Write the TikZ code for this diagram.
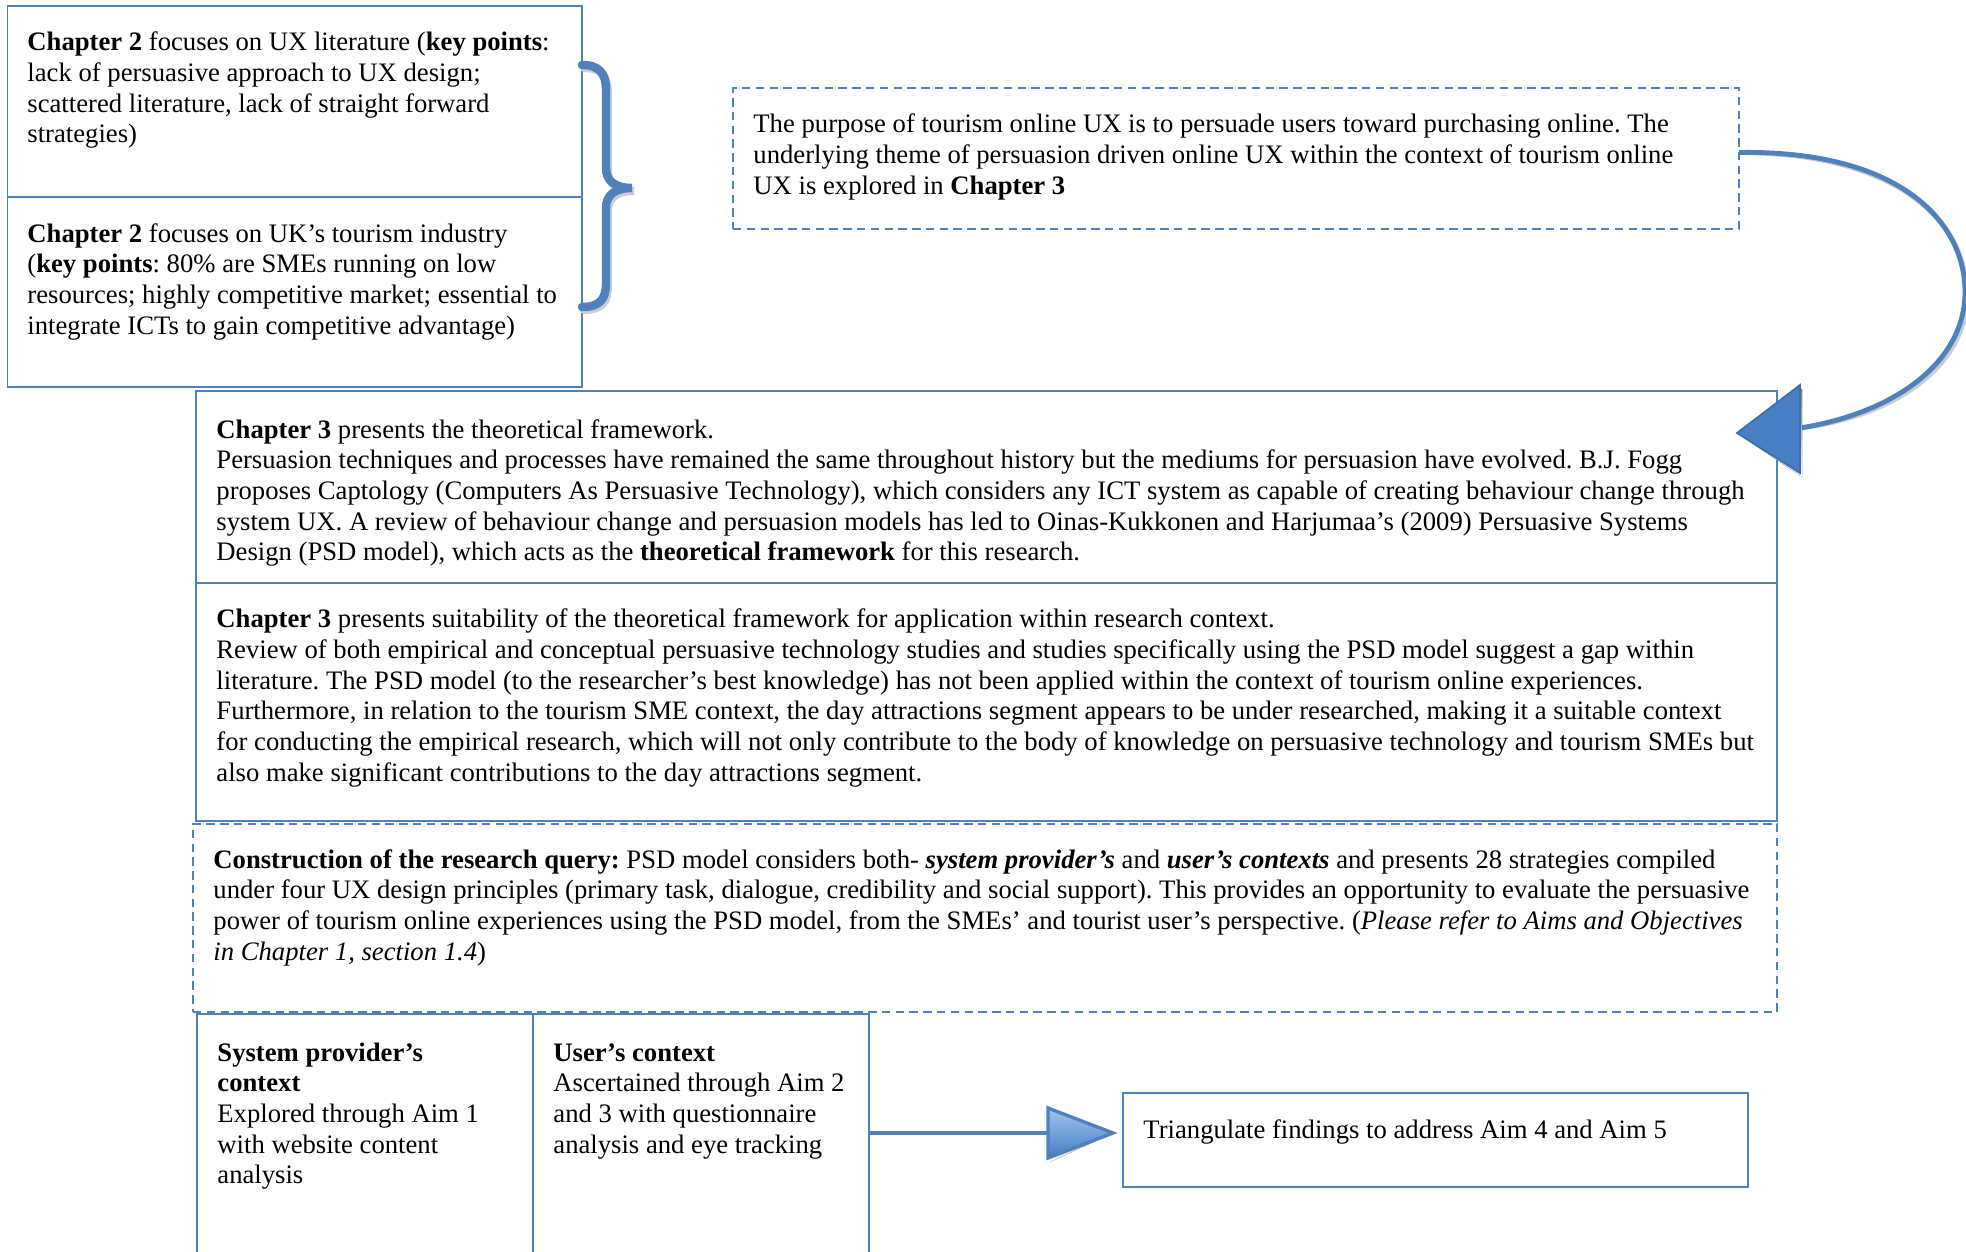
\documentclass[tikz,border=0pt]{standalone}
\usepackage{fontspec}
\setmainfont{Liberation Serif}
\frenchspacing
\usetikzlibrary{fit,calc}
\definecolor{frame}{RGB}{79,129,189}
\definecolor{headfill}{RGB}{72,126,196}
\definecolor{headedge}{RGB}{62,110,176}
\definecolor{headtop}{RGB}{160,198,242}
\definecolor{headbottom}{RGB}{70,124,194}
\definecolor{shade}{RGB}{205,205,205}
\tikzset{
  box/.style={draw=frame, line width=0.8pt, inner sep=0pt, outer sep=0pt},
  dashbox/.style={box, dash pattern=on 3.8pt off 2.4pt},
  % text blocks are placed by the baseline of their last line
  txt/.style={anchor=base west, inner sep=0pt, align=left,
              font=\fontsize{12}{13.8}\selectfont},
  heavy/.style={draw=frame, line width=#1},
  shadowline/.style={draw=shade, line width=#1},
}
\begin{document}
\begin{tikzpicture}[x=0.45pt,y=-0.45pt]
\clip (0,0) rectangle (1966,1252);
\fill[white] (0,0) rectangle (1966,1252);

% ---- frames ----
\node[box, fit={(7.5,6) (582,197)}] (A) {};
\node[box, fit={(7.5,197) (582,387)}] (B) {};
\node[dashbox, fit={(733,88) (1739,229)}] (P) {};
\node[box, fit={(196,391) (1777,583)}] (C) {};
\node[box, fit={(196,583) (1777,821)}] (D) {};
\node[dashbox, fit={(193,824) (1777,1012)}] (E) {};
\node[box, fit={(197,1014) (533,1262)}] (F) {};
\node[box, fit={(533,1014) (869,1262)}] (G) {};
\node[box, fit={(1123,1093) (1748,1187)}] (H) {};

% ---- texts (line pitch 13.8pt = 30.67 units) ----
\node[txt] (tA) at (27,143) {\textbf{Chapter 2} focuses on UX literature (\textbf{key points}:\\
lack of persuasive approach to UX design;\\
scattered literature, lack of straight forward\\
strategies)};
\node[txt] (tB) at (27,334) {\textbf{Chapter 2} focuses on UK’s tourism industry\\
(\textbf{key points}: 80\% are SMEs running on low\\
resources; highly competitive market; essential to\\
integrate ICTs to gain competitive advantage)};
\node[txt] (tP) at (753,194.3) {The purpose of tourism online UX is to persuade users toward purchasing online. The\\
underlying theme of persuasion driven online UX within the context of tourism online\\
UX is explored in \textbf{Chapter 3}};
\node[txt] (tC) at (216,560.7) {\textbf{Chapter 3} presents the theoretical framework.\\
Persuasion techniques and processes have remained the same throughout history but the mediums for persuasion have evolved. B.J. Fogg\\
proposes Captology (Computers As Persuasive Technology), which considers any ICT system as capable of creating behaviour change through\\
system UX. A review of behaviour change and persuasion models has led to Oinas-Kukkonen and Harjumaa’s (2009) Persuasive Systems\\
Design (PSD model), which acts as the \textbf{theoretical framework} for this research.};
\node[txt] (tD) at (216,781.3) {\textbf{Chapter 3} presents suitability of the theoretical framework for application within research context.\\
Review of both empirical and conceptual persuasive technology studies and studies specifically using the PSD model suggest a gap within\\
literature. The PSD model (to the researcher’s best knowledge) has not been applied within the context of tourism online experiences.\\
Furthermore, in relation to the tourism SME context, the day attractions segment appears to be under researched, making it a suitable context\\
for conducting the empirical research, which will not only contribute to the body of knowledge on persuasive technology and tourism SMEs but\\
also make significant contributions to the day attractions segment.};
\node[txt] (tE) at (213,960) {\textbf{Construction of the research query:} PSD model considers both- \textbf{\textit{system provider’s}} and \textbf{\textit{user’s contexts}} and presents 28 strategies compiled\\
under four UX design principles (primary task, dialogue, credibility and social support). This provides an opportunity to evaluate the persuasive\\
power of tourism online experiences using the PSD model, from the SMEs’ and tourist user’s perspective. (\textit{Please refer to Aims and Objectives}\\
\textit{in Chapter 1, section 1.4})};
\node[txt] (tF) at (217,1183.7) {\textbf{System provider’s}\\
\textbf{context}\\
Explored through Aim 1\\
with website content\\
analysis};
\node[txt] (tG) at (553,1153) {\textbf{User’s context}\\
Ascertained through Aim 2\\
and 3 with questionnaire\\
analysis and eye tracking};
\node[txt] (tH) at (1143,1138) {Triangulate findings to address Aim 4 and Aim 5};

% ---- brace joining the two Chapter 2 frames ----
\def\bracepath{(582,65) .. controls (600,65) and (606,74) .. (606,90) -- (606,168)
  .. controls (606,181) and (615,188) .. (632,188)
  .. controls (615,188) and (606,195) .. (606,208) -- (606,283)
  .. controls (606,299) and (600,307) .. (582,307)}
\draw[shadowline=3.6pt, line cap=round, shift={(2,3)}] \bracepath;
\draw[heavy=3.8pt, line cap=round] \bracepath;

% ---- curved arrow from the purpose frame into Chapter 3 ----
\coordinate (cs) at ($(P.east)+(0,-6)$);
\coordinate (cb) at (1800,428);
\coordinate (ct) at ($(C.north east)+(-40,42)$);
\draw[shadowline=2.2pt, shift={(2,3)}] (cs) .. controls (1900,150) and (1965,222) .. (1965,292)
  .. controls (1965,362) and (1895,413) .. (cb);
\draw[heavy=2.2pt] (cs) .. controls (1900,150) and (1965,222) .. (1965,292)
  .. controls (1965,362) and (1895,413) .. (cb);
\fill[shade, shift={(2,4)}] (ct) -- (1800,385) -- (1800,473) -- cycle;
\filldraw[fill=headfill, draw=headedge, line width=0.8pt, line join=miter] (ct) -- (1800,385) -- (1800,473) -- cycle;

% ---- arrow from the context frames to the triangulation frame ----
\coordinate (ay) at (0,1133);
\coordinate (ab) at (1048,1133);
\coordinate (at) at ($(H.west |- ay)+(-10,0)$);
\draw[shadowline=1.8pt, shift={(0,3)}] (G.east |- ay) -- (ab);
\draw[heavy=1.8pt] (G.east |- ay) -- (ab);
\fill[shade, shift={(2,4)}] (1048,1108) -- (at) -- (1048,1158) -- cycle;
\path[top color=headtop, bottom color=headbottom] (1048,1108) -- (at) -- (1048,1158) -- cycle;
\draw[draw=frame, line width=1.5pt, line join=miter] (1048,1108) -- (at) -- (1048,1158) -- cycle;
\end{tikzpicture}
\end{document}
